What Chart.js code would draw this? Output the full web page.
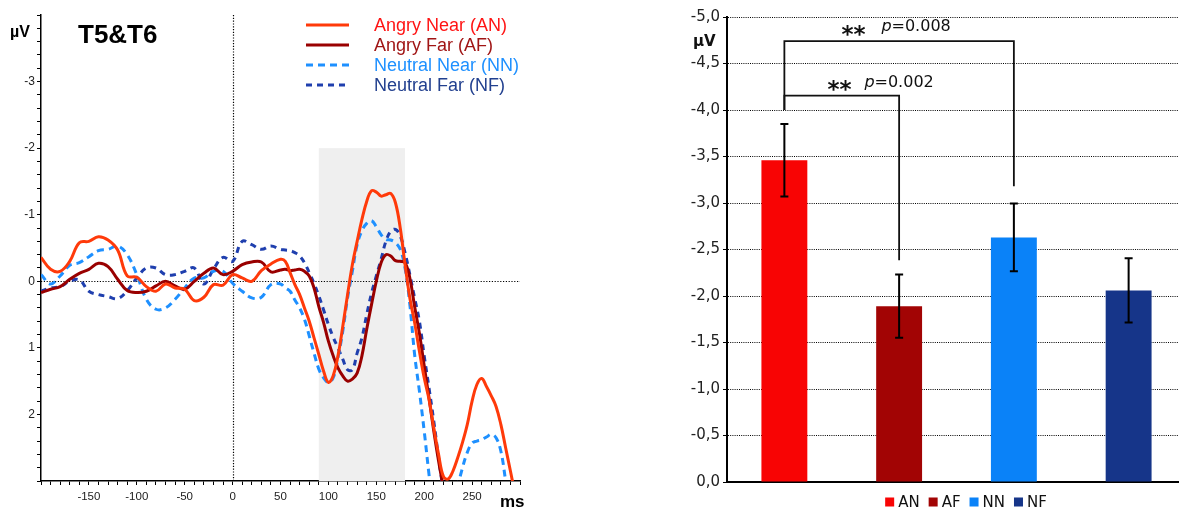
<!DOCTYPE html>
<html>
<head>
<meta charset="utf-8">
<script src="https://cdn.jsdelivr.net/npm/chart.js@4.4.1/dist/chart.umd.min.js"></script>
<style>
  html, body { margin: 0; padding: 0; background: #fff; overflow: hidden; width: 1179px; height: 508px; }
  #erpBox { position: absolute; left: 0; top: 0; width: 540px; height: 508px; }
  #barBox { position: absolute; left: 660px; top: 0; width: 540px; height: 508px; }
</style>
</head>
<body>
<div id="erpBox"><canvas id="erp" width="540" height="508"></canvas></div>
<div id="barBox"><canvas id="bars" width="540" height="508"></canvas></div>
<script>
// ---------- Grand-average ERP at T5&T6 (µV, negative up) ----------
const timesMs = [
  -200, -190, -180, -170, -160, -150, -140, -130, -120, -110, -100, -90, -80,
  -70, -60, -50, -40, -30, -20, -10, 0, 10, 20, 30, 40, 50,
  55, 60, 65, 70, 75, 80, 85, 90, 95, 100,
  105, 110, 115, 120, 125, 130, 135, 140, 145, 150,
  155, 160, 165, 170, 175, 180, 185, 190, 195, 200,
  205, 210, 215, 220, 225, 230, 235, 240, 245, 250,
  255, 260, 265, 270, 275, 280, 285, 290, 295, 300
];
const angryNear = [
  -0.36, -0.18, -0.15, -0.30, -0.58, -0.60, -0.67, -0.62, -0.47, -0.08, -0.06, 0.08, 0.15,
  0.04, 0.10, 0.12, 0.29, 0.24, 0.05, 0.06, -0.10, -0.05, 0.00, -0.16, -0.26, -0.33,
  -0.30, -0.13, 0.05, 0.20, 0.40, 0.60, 0.85, 1.10, 1.35, 1.52,
  1.42, 1.12, 0.68, 0.20, -0.25, -0.60, -0.93, -1.20, -1.36, -1.34,
  -1.28, -1.30, -1.32, -1.18, -0.80, -0.25, 0.25, 0.62, 1.05, 1.45,
  1.77, 2.20, 2.60, 2.93, 2.97, 2.85, 2.65, 2.42, 2.15, 1.80,
  1.55, 1.46, 1.58, 1.72, 1.88, 2.15, 2.50, 2.85, 3.20, 3.50
];
const angryFar = [
  0.17, 0.12, 0.08, -0.03, -0.12, -0.18, -0.27, -0.22, -0.03, 0.14, 0.17, 0.15, 0.07,
  0.00, 0.07, 0.12, 0.00, -0.12, -0.20, -0.10, -0.15, -0.25, -0.29, -0.29, -0.14, -0.17,
  -0.18, -0.16, -0.17, -0.18, -0.15, -0.08, 0.10, 0.38, 0.62, 0.90,
  1.12, 1.30, 1.42, 1.50, 1.47, 1.38, 1.12, 0.72, 0.35, 0.00,
  -0.28, -0.40, -0.38, -0.31, -0.30, -0.28, -0.05, 0.38, 0.78, 1.27,
  1.75, 2.25, 2.70, 3.10, 3.50, null, null, null, null, null,
  null, null, null, null, null, null, null, null, null, null
];
const neutralNear = [
  -0.10, 0.04, -0.08, -0.24, -0.28, -0.37, -0.46, -0.48, -0.53, -0.40, -0.10, 0.27, 0.42,
  0.40, 0.27, 0.10, -0.05, -0.05, -0.15, -0.15, 0.03, 0.15, 0.25, 0.24, 0.05, 0.04,
  0.10, 0.15, 0.28, 0.40, 0.57, 0.82, 1.08, 1.32, 1.45, 1.52,
  1.45, 1.15, 0.75, 0.25, -0.15, -0.55, -0.76, -0.87, -0.91, -0.82,
  -0.70, -0.63, -0.62, -0.58, -0.48, -0.20, 0.35, 1.10, 1.65, 2.25,
  2.90, 3.50, 3.90, 4.10, 4.00, 3.60, 3.10, 2.80, 2.57, 2.43,
  2.40, 2.38, 2.34, 2.30, 2.35, 2.55, 3.00, 3.50, 4.00, 4.40
];
const neutralFar = [
  0.15, 0.10, 0.08, 0.00, -0.02, 0.15, 0.20, 0.23, 0.26, 0.14, -0.05, -0.20, -0.20,
  -0.10, -0.10, -0.15, -0.20, 0.04, -0.18, -0.36, -0.30, -0.60, -0.55, -0.48, -0.53, -0.48,
  -0.47, -0.46, -0.43, -0.38, -0.28, -0.13, 0.03, 0.22, 0.43, 0.65,
  0.84, 1.00, 1.17, 1.33, 1.33, 1.08, 0.85, 0.50, 0.18, -0.08,
  -0.33, -0.60, -0.75, -0.78, -0.68, -0.43, -0.10, 0.25, 0.60, 1.12,
  1.60, 2.10, 2.65, 3.15, 3.60, null, null, null, null, null,
  null, null, null, null, null, null, null, null, null, null
];
const erpLabels = ['Angry Near (AN)', 'Angry Far (AF)', 'Neutral Near (NN)', 'Neutral Far (NF)'];
const xTickLabels = [-150, -100, -50, 0, 50, 100, 150, 200, 250];
const yTickLabels = [-3, -2, -1, 0, 1, 2];

// ---------- Mean amplitude per condition ----------
const conditions = ['AN', 'AF', 'NN', 'NF'];
const meanAmplitude = [-3.46, -1.89, -2.63, -2.06];
const amplitudeSem = [0.39, 0.34, 0.365, 0.345];
const sigPairs = [[0, 2], [0, 1]];
const sigPValues = ['0.008', '0.002'];

// ---------- styles ----------
const lineColors = ['#ff3a0a', '#990000', '#1e90ff', '#1f3fae'];
const legendTextColors = ['#ff1414', '#a01515', '#1e90ff', '#22408f'];
const lineDashes = [[], [], [7, 5], [6, 5]];
const barColors = ['#f80404', '#a20404', '#0a82f8', '#163589'];

const toPoints = (series) => timesMs.map((t, i) => ({ x: t, y: series[i] }));
const erpSeries = [angryNear, angryFar, neutralNear, neutralFar];

const erpDecor = {
  id: 'erpDecor',
  beforeDatasetsDraw(chart, args, opts) {
    const { ctx, chartArea: a, scales: { x, y } } = chart;
    ctx.save();
    // analysis window
    const x0 = x.getPixelForValue(opts.window[0]);
    const x1 = x.getPixelForValue(opts.window[1]);
    const yTop = y.getPixelForValue(opts.windowTop);
    ctx.fillStyle = '#efefef';
    ctx.fillRect(x0, yTop, x1 - x0, a.bottom - yTop);
    // zero reference lines
    ctx.strokeStyle = '#000';
    ctx.lineWidth = 1.2;
    ctx.setLineDash([1.2, 1.6]);
    const zx = Math.round(x.getPixelForValue(0)) + 0.5;
    const zy = Math.round(y.getPixelForValue(0)) + 0.5;
    ctx.beginPath(); ctx.moveTo(zx, a.top); ctx.lineTo(zx, a.bottom); ctx.stroke();
    ctx.beginPath(); ctx.moveTo(a.left, zy); ctx.lineTo(a.right, zy); ctx.stroke();
    ctx.restore();
  },
  afterDraw(chart, args, opts) {
    const { ctx } = chart;
    ctx.save();
    chart.data.datasets.forEach((ds, i) => {
      const yy = opts.legendY + i * opts.legendStep;
      ctx.strokeStyle = ds.borderColor;
      ctx.lineWidth = 3;
      ctx.setLineDash(ds.borderDash || []);
      ctx.beginPath(); ctx.moveTo(opts.legendX, yy); ctx.lineTo(opts.legendX + 43, yy); ctx.stroke();
      ctx.setLineDash([]);
      ctx.fillStyle = legendTextColors[i];
      ctx.font = '18px "Liberation Sans", Arial, sans-serif';
      ctx.textBaseline = 'middle';
      ctx.textAlign = 'left';
      ctx.fillText(ds.label, opts.legendX + 68, yy + 1);
    });
    ctx.fillStyle = '#000';
    ctx.textBaseline = 'alphabetic';
    ctx.font = 'bold 26px "Liberation Sans", Arial, sans-serif';
    ctx.fillText('T5&T6', 78, 43);
    ctx.font = 'bold 16px "Liberation Sans", Arial, sans-serif';
    ctx.fillText('µV', 10, 37);
    ctx.font = 'bold 17px "Liberation Sans", Arial, sans-serif';
    ctx.fillText('ms', 500, 507);
    ctx.restore();
  }
};

new Chart(document.getElementById('erp'), {
  type: 'line',
  data: {
    datasets: erpSeries.map((s, i) => ({
      label: erpLabels[i],
      data: toPoints(s),
      borderColor: lineColors[i],
      borderDash: lineDashes[i],
      borderWidth: 3,
      pointRadius: 0,
      tension: 0.4,
      fill: false,
      spanGaps: false
    }))
  },
  options: {
    responsive: false,
    animation: false,
    layout: { padding: { left: 0, top: 15, right: 20, bottom: 0 } },
    plugins: {
      legend: { display: false },
      tooltip: { enabled: false },
      erpDecor: { window: [90, 180], windowTop: -2, legendX: 306, legendY: 25, legendStep: 20 }
    },
    scales: {
      x: {
        type: 'linear', min: -200, max: 300,
        ticks: {
          stepSize: 10, autoSkip: false, maxTicksLimit: 1000, maxRotation: 0, padding: 5,
          color: '#222', font: { family: '"Liberation Sans", Arial, sans-serif', size: 11.5 },
          callback: (v) => xTickLabels.includes(v) ? String(v) : ''
        },
        grid: { drawOnChartArea: false, drawTicks: true, tickLength: 4, tickColor: '#000', tickWidth: 1 },
        border: { display: true, color: '#000', width: 1.5 },
        afterFit: (s) => { s.height = 27; }
      },
      y: {
        type: 'linear', min: -4, max: 3, reverse: true,
        ticks: {
          stepSize: 0.2, autoSkip: false, maxTicksLimit: 1000, padding: 2,
          color: '#222', font: { family: '"Liberation Sans", Arial, sans-serif', size: 12 },
          callback: (v) => {
            const r = Math.round(v);
            return (Math.abs(v - r) < 1e-6 && yTickLabels.includes(r)) ? String(r) : '';
          }
        },
        grid: { drawOnChartArea: false, drawTicks: true, tickLength: 4, tickColor: '#000', tickWidth: 1 },
        border: { display: true, color: '#000', width: 1.5 },
        afterFit: (s) => { s.width = 41; }
      }
    }
  },
  plugins: [erpDecor]
});

// ---------- bar chart decorations: error bars, significance, legend ----------
const barDecor = {
  id: 'barDecor',
  afterDatasetsDraw(chart, args, opts) {
    const { ctx, scales: { x, y } } = chart;
    ctx.save();
    // error bars (± SEM)
    ctx.strokeStyle = '#000';
    ctx.lineWidth = 2;
    meanAmplitude.forEach((m, i) => {
      const cx = x.getPixelForValue(i);
      const yHi = y.getPixelForValue(m - amplitudeSem[i]);
      const yLo = y.getPixelForValue(m + amplitudeSem[i]);
      ctx.beginPath();
      ctx.moveTo(cx, yHi); ctx.lineTo(cx, yLo);
      ctx.moveTo(cx - 4, yHi); ctx.lineTo(cx + 4, yHi);
      ctx.moveTo(cx - 4, yLo); ctx.lineTo(cx + 4, yLo);
      ctx.stroke();
    });
    // significance brackets
    ctx.strokeStyle = '#111';
    ctx.lineWidth = 1.8;
    sigPairs.forEach(([a, b], k) => {
      const g = opts.brackets[k];
      const xa = x.getPixelForValue(a), xb = x.getPixelForValue(b);
      const yl = y.getPixelForValue(g.level);
      ctx.beginPath();
      ctx.moveTo(xa, y.getPixelForValue(g.fromEnd));
      ctx.lineTo(xa, yl);
      ctx.lineTo(xb, yl);
      ctx.lineTo(xb, y.getPixelForValue(g.toEnd));
      ctx.stroke();
      const tx = xa + g.textDx;
      ctx.fillStyle = '#111';
      ctx.textAlign = 'left';
      ctx.textBaseline = 'alphabetic';
      ctx.font = 'bold 23px "DejaVu Sans", sans-serif';
      ctx.fillText('**', tx, yl + g.starDy);
      const px = tx + g.pDx;
      const py = yl + g.pDy;
      ctx.font = 'italic 16px "DejaVu Sans", sans-serif';
      ctx.fillText('p', px, py);
      const pw = ctx.measureText('p').width;
      ctx.font = '16px "DejaVu Sans", sans-serif';
      ctx.fillText('=' + sigPValues[k], px + pw, py);
    });
    ctx.restore();
  },
  afterDraw(chart, args, opts) {
    const { ctx } = chart;
    ctx.save();
    // axis unit
    ctx.fillStyle = '#111';
    ctx.font = 'bold 15px "DejaVu Sans", sans-serif';
    ctx.textAlign = 'left';
    ctx.textBaseline = 'alphabetic';
    ctx.fillText('µV', 33, 46);
    // legend
    ctx.font = '15px "DejaVu Sans", sans-serif';
    ctx.textBaseline = 'middle';
    const sq = 9, gapIn = 4, gapOut = 9;
    const widths = conditions.map(c => ctx.measureText(c).width);
    const total = widths.reduce((s, w) => s + sq + gapIn + w, 0) + gapOut * (conditions.length - 1);
    let lx = opts.legendCenter - total / 2;
    conditions.forEach((c, i) => {
      ctx.fillStyle = barColors[i];
      ctx.fillRect(lx, opts.legendY - sq / 2, sq, sq);
      ctx.fillStyle = '#111';
      ctx.fillText(c, lx + sq + gapIn, opts.legendY + 1);
      lx += sq + gapIn + widths[i] + gapOut;
    });
    ctx.restore();
  }
};

new Chart(document.getElementById('bars'), {
  type: 'bar',
  data: {
    labels: conditions,
    datasets: [{
      label: 'Mean amplitude',
      data: meanAmplitude,
      backgroundColor: barColors,
      borderWidth: 0,
      barPercentage: 0.4,
      categoryPercentage: 1.0
    }]
  },
  options: {
    responsive: false,
    animation: false,
    layout: { padding: { left: 0, top: 17, right: 14, bottom: 0 } },
    plugins: {
      legend: { display: false },
      tooltip: { enabled: false },
      barDecor: {
        legendCenter: 306, legendY: 502,
        brackets: [
          { level: -4.74, fromEnd: -4.0, toEnd: -3.18, textDx: 57, starDy: 1, pDx: 40, pDy: -10 },
          { level: -4.155, fromEnd: -4.0, toEnd: -2.385, textDx: 43, starDy: 1, pDx: 37, pDy: -9 }
        ]
      }
    },
    scales: {
      x: {
        type: 'category',
        ticks: { display: false },
        grid: { display: false },
        border: { display: true, color: '#000', width: 2 },
        afterFit: (s) => { s.height = 26; }
      },
      y: {
        type: 'linear', min: -5, max: 0, reverse: true,
        ticks: {
          stepSize: 0.5, padding: 3, color: '#222',
          font: { family: '"DejaVu Sans", sans-serif', size: 15 },
          callback: (v) => v.toFixed(1).replace('.', ',')
        },
        grid: {
          color: (c) => c.tick && c.tick.value === 0 ? 'rgba(0,0,0,0)' : '#000',
          lineWidth: 1, tickLength: 4, tickColor: '#000'
        },
        border: { display: true, color: '#000', width: 2, dash: [1, 1.2] },
        afterFit: (s) => { s.width = 67; }
      }
    }
  },
  plugins: [barDecor]
});
</script>
</body>
</html>
